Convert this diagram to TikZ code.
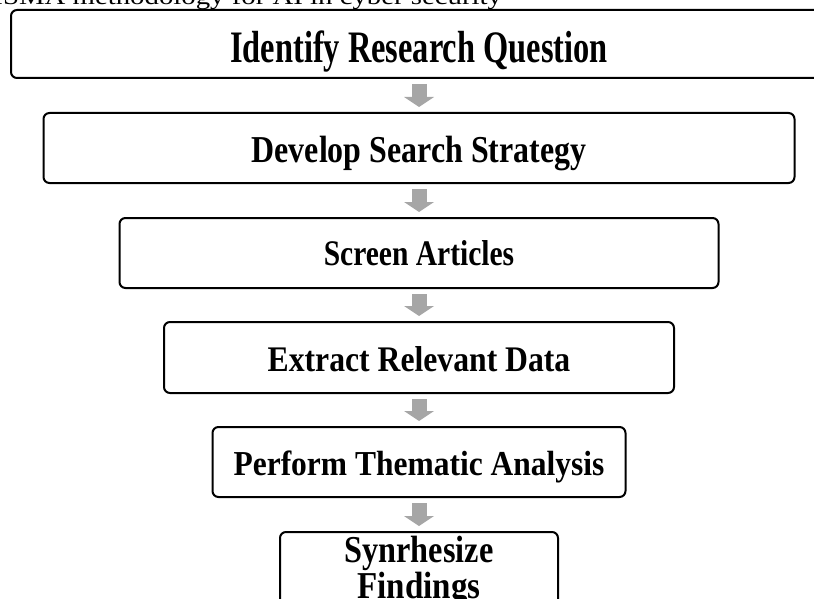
\documentclass[tikz,border=0pt]{standalone}
\usepackage{fontspec}
\usepackage{graphicx}
\setmainfont{Liberation Serif}
\usetikzlibrary{arrows.meta}
\definecolor{arrowgray}{HTML}{A6A6A6}
\tikzset{
  stepbox/.style={draw=black, line width=2pt, rounded corners=6pt, outer sep=0pt,
    inner sep=0pt, align=center, text depth=0pt},
  flowarrow/.style={draw=arrowgray, line width=15pt,
    -{Triangle[width=30pt,length=10pt,line width=0pt]},
    shorten <=6pt, shorten >=6pt},
}
\begin{document}
\begin{tikzpicture}[x=1pt,y=-1pt]
\useasboundingbox (0,0) rectangle (814,599);
\clip (0,0) rectangle (814,599);
\node[anchor=base west, inner sep=0pt, font=\fontsize{24}{24}\selectfont] (cap) at (-42,5)
  {\scalebox{1.2}[1]{PRISMA methodology for AI in cyber security}};
\node[stepbox, minimum width=816pt, minimum height=68pt, text height=38pt,
  font=\bfseries\fontsize{45}{45}\selectfont] (b1) at (419,44)
  {\scalebox{0.72}[1]{Identify Research Question}};
\node[stepbox, minimum width=751pt, minimum height=70pt, text height=30pt,
  font=\bfseries\fontsize{38}{38}\selectfont] (b2) at (419,148)
  {\scalebox{0.84}[1]{Develop Search Strategy}};
\node[stepbox, minimum width=599pt, minimum height=70pt, text height=24pt,
  font=\bfseries\fontsize{36}{36}\selectfont] (b3) at (419,253)
  {\scalebox{0.82}[1]{Screen Articles}};
\node[stepbox, minimum width=510pt, minimum height=71pt, text height=27pt,
  font=\bfseries\fontsize{36}{36}\selectfont] (b4) at (419,357.5)
  {\scalebox{0.88}[1]{Extract Relevant Data}};
\node[stepbox, minimum width=413pt, minimum height=70pt, text height=26pt,
  font=\bfseries\fontsize{35}{35}\selectfont] (b5) at (419,462)
  {\scalebox{0.90}[1]{Perform Thematic Analysis}};
\node[stepbox, anchor=north, minimum width=278pt, inner ysep=4pt, text depth=12pt,
  font=\bfseries\fontsize{38}{36}\selectfont] (b6) at (419,532)
  {\scalebox{0.85}[1]{Synrhesize}\\\scalebox{0.87}[1]{Findings}};
\draw[flowarrow] (b1.south) -- (b2.north);
\draw[flowarrow] (b2.south) -- (b3.north);
\draw[flowarrow] (b3.south) -- (b4.north);
\draw[flowarrow] (b4.south) -- (b5.north);
\draw[flowarrow] (b5.south) -- (b6.north);
\end{tikzpicture}
\end{document}
